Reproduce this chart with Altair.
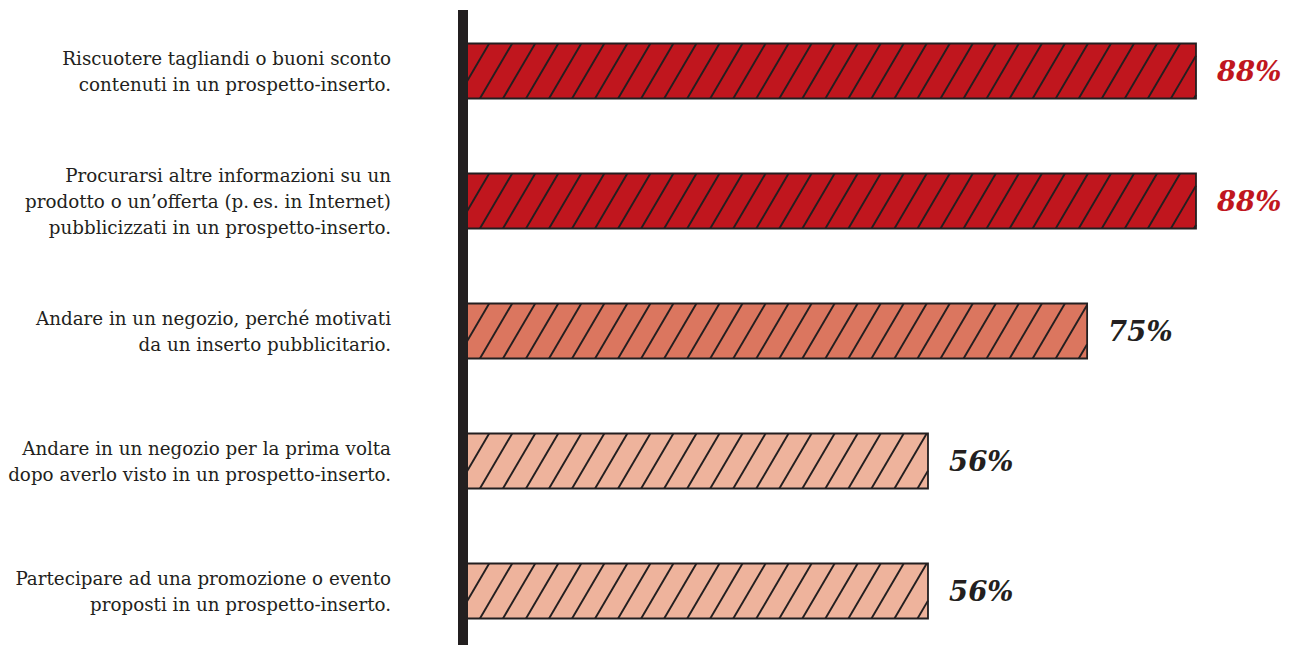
import altair as alt
import pandas as pd

labels = [
    "Riscuotere tagliandi o buoni sconto\ncontenuti in un prospetto-inserto.",
    "Procurarsi altre informazioni su un\nprodotto o un’offerta (p.\u2009es. in Internet)\npubblicizzati in un prospetto-inserto.",
    "Andare in un negozio, perché motivati\nda un inserto pubblicitario.",
    "Andare in un negozio per la prima volta\ndopo averlo visto in un prospetto-inserto.",
    "Partecipare ad una promozione o evento\nproposti in un prospetto-inserto.",
]
values = [88, 88, 75, 56, 56]

df = pd.DataFrame({"label": labels, "value": values, "idx": list(range(len(values)))})

H = 0.2115          # half bar thickness in row units
SP = 2.75           # hatch spacing (x units)
DX = 3.85           # hatch horizontal run over bar height (x units)
LH = 26 / 130       # text line height in row units

xscale = alt.Scale(domain=[0, 98.27], nice=False, zero=False)
yscale = alt.Scale(domain=[-0.4846, 4.4154], reverse=True, nice=False, zero=False)
fillscale = alt.Scale(domain=[88, 75, 56], range=["#c0161e", "#db765f", "#eeb39c"])
INK = "#231f20"

base = alt.Chart(df).transform_calculate(
    y1=f"datum.idx - {H}", y2=f"datum.idx + {H}", zero="0"
)

bars = base.mark_rect(strokeWidth=0).encode(
    x=alt.X("zero:Q", scale=xscale, axis=None),
    x2="value:Q",
    y=alt.Y("y1:Q", scale=yscale, axis=None),
    y2="y2:Q",
    fill=alt.Fill("value:O", scale=fillscale, legend=None),
)

hatch = alt.Chart(df).transform_calculate(
    k="sequence(0, 42)"
).transform_flatten(["k"]).transform_calculate(
    xb=f"datum.k * {SP} - 3.0"
).transform_calculate(
    t0=f"max(0, -datum.xb / {DX})",
    t1=f"min(1, (datum.value - datum.xb) / {DX})",
).transform_filter("datum.t1 > datum.t0 + 0.001").transform_calculate(
    hx1=f"datum.xb + datum.t0 * {DX}",
    hx2=f"datum.xb + datum.t1 * {DX}",
    hy1=f"datum.idx + {H} - datum.t0 * {2*H}",
    hy2=f"datum.idx + {H} - datum.t1 * {2*H}",
).mark_rule(color=INK, strokeWidth=1.9).encode(
    x=alt.X("hx1:Q", scale=xscale, axis=None),
    x2="hx2:Q",
    y=alt.Y("hy1:Q", scale=yscale, axis=None),
    y2="hy2:Q",
)

outline = base.mark_rect(fillOpacity=0, stroke=INK, strokeWidth=1.8).encode(
    x=alt.X("zero:Q", scale=xscale, axis=None),
    x2="value:Q",
    y=alt.Y("y1:Q", scale=yscale, axis=None),
    y2="y2:Q",
)

axis_line = alt.Chart(pd.DataFrame({"a": [0]})).mark_rule(
    color=INK, strokeWidth=10
).encode(x=alt.value(4), y=alt.value(2), y2=alt.value(637))

cat_text = base.transform_calculate(
    ty=f"datum.idx - (length(split(datum.label, '\\n')) - 1) * {LH / 2}"
).mark_text(
    align="right", baseline="middle", lineBreak="\n", font="DejaVu Serif",
    fontSize=18.3, lineHeight=26, color=INK, dy=2
).encode(
    x=alt.value(-68),
    y=alt.Y("ty:Q", scale=yscale, axis=None),
    text="label:N",
)

val_text = base.transform_calculate(txt="datum.value + '%'").mark_text(
    align="left", baseline="middle", dx=21, dy=2, font="DejaVu Serif",
    fontSize=27.5, fontStyle="italic", fontWeight="bold"
).encode(
    x=alt.X("value:Q", scale=xscale, axis=None),
    y=alt.Y("idx:Q", scale=yscale, axis=None),
    text="txt:N",
    color=alt.condition("datum.value >= 88", alt.value("#c0161e"), alt.value(INK)),
)

chart = alt.layer(bars, hatch, outline, axis_line, cat_text, val_text).properties(
    width=823, height=637,
    autosize=alt.AutoSizeParams(type="none"),
    padding={"left": 451, "top": 0, "right": 0, "bottom": 0},
).configure_view(stroke=None)

chart.save("out.html", embed_options={"renderer": "svg", "actions": False})
